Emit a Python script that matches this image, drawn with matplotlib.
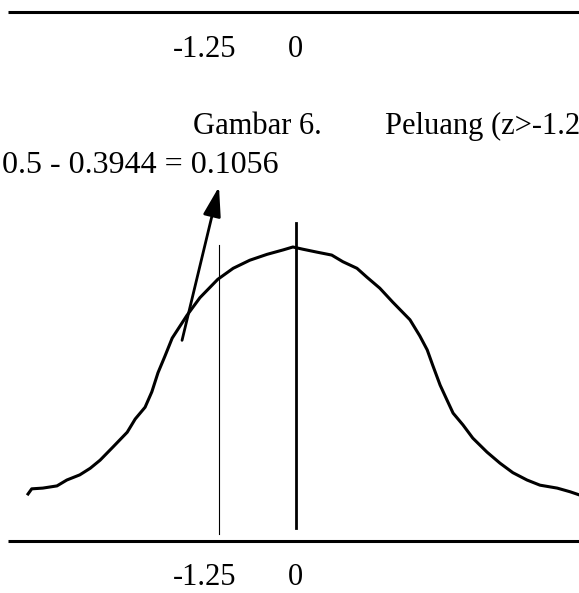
import matplotlib.pyplot as plt

# bell curve: z value and relative height
curve_z = [-4.35, -4.29, -4.11, -3.88, -3.72, -3.51, -3.34, -3.18, -2.97, -2.74,
           -2.61, -2.45, -2.34, -2.24, -2.13, -2.01, -1.77, -1.56, -1.27, -1.02,
           -0.75, -0.47, -0.21, -0.05, 0.11, 0.34, 0.58, 0.76, 0.99, 1.15,
           1.36, 1.57, 1.85, 2.01, 2.13, 2.22, 2.34, 2.45, 2.55, 2.71,
           2.87, 3.10, 3.31, 3.52, 3.75, 3.96, 4.24, 4.45, 4.59]
curve_f = [0.064, 0.071, 0.072, 0.075, 0.083, 0.090, 0.099, 0.110, 0.128, 0.148,
           0.166, 0.182, 0.203, 0.229, 0.251, 0.276, 0.307, 0.331, 0.356, 0.371,
           0.382, 0.390, 0.396, 0.400, 0.397, 0.393, 0.389, 0.380, 0.371, 0.359,
           0.344, 0.325, 0.301, 0.279, 0.260, 0.239, 0.212, 0.192, 0.174, 0.158,
           0.140, 0.121, 0.106, 0.093, 0.083, 0.076, 0.072, 0.067, 0.063]

z_cut = -1.25
z_mean = 0
tick_labels = ['-1.25', '0']
tick_pos = [-1.48, -0.016]
formula = '0.5 - 0.3944 = 0.1056'
caption_no = 'Gambar 6.'
caption_txt = 'Peluang (z>-1.25)'

plt.rcParams['font.family'] = ['Liberation Serif', 'DejaVu Serif']

fig = plt.figure(figsize=(5.79, 5.93), dpi=100)
ax = fig.add_axes([0, 0, 1, 1])
ax.set_xlim(-4.805, 4.594)
ax.set_ylim(-0.0707, 0.736)
ax.axis('off')

# upper rule with its labels (left over from the previous figure)
ax.plot([-4.675, 4.7], [0.720, 0.720], color='black', lw=2.2, solid_capstyle='butt')
for p, t in zip(tick_pos, tick_labels):
    ax.text(p, 0.669, t, ha='center', va='center', fontsize=22)

# caption runs past the right edge, as in the scan
ax.text(-1.67, 0.554, caption_no, ha='left', va='baseline', fontsize=22)
ax.text(1.445, 0.554, caption_txt, ha='left', va='baseline', fontsize=22)

ax.text(-4.77, 0.50, formula, ha='left', va='baseline', fontsize=23)

ax.plot(curve_z, curve_f, color='black', lw=2.2)

ax.plot([z_cut, z_cut], [0.0095, 0.403], color='black', lw=0.8)
ax.plot([z_mean, z_mean], [0.018, 0.433], color='black', lw=2.0)

ax.annotate('', xy=(z_cut, 0.482), xytext=(-1.85, 0.273),
            arrowprops=dict(arrowstyle='-|>,head_length=0.4,head_width=0.12',
                            mutation_scale=45, lw=2, color='black',
                            shrinkA=0, shrinkB=0))

# baseline and lower labels
ax.plot([-4.675, 4.7], [0, 0], color='black', lw=2.2, solid_capstyle='butt')
for p, t in zip(tick_pos, tick_labels):
    ax.text(p, -0.050, t, ha='center', va='center', fontsize=22)

fig.savefig('out.png', dpi=100)
